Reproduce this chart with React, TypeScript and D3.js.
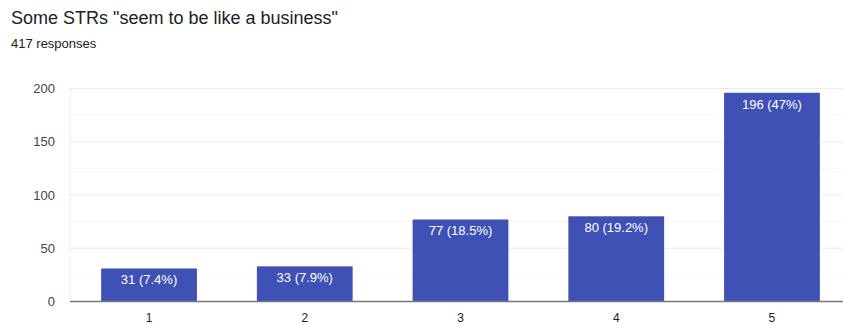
import React from "react";
import * as d3 from "d3";

const categories = ["1", "2", "3", "4", "5"];
const counts = [31, 33, 77, 80, 196];
const percents = ["7.4%", "7.9%", "18.5%", "19.2%", "47%"];
const yTicks = [0, 50, 100, 150, 200];
const yMinorTicks = [25, 75, 125, 175];

const W = 843;
const H = 325;
const FONT = "Arial, 'Liberation Sans', Helvetica, sans-serif";

export default function App() {
  React.useEffect(() => {
    document.body.style.margin = "0";
  }, []);

  const x = d3
    .scaleBand<string>()
    .domain(categories)
    .range([70, 851])
    .paddingInner(0.385)
    .paddingOuter(0.2);
  const y = d3.scaleLinear().domain([0, 200]).range([301.5, 88.5]);

  return (
    <svg width={W} height={H} style={{ display: "block", position: "absolute", top: 0, left: 0 }} fontFamily={FONT}>
      <rect width={W} height={H} fill="#fff" />
      <text x={11} y={24} fontSize={18} fill="#202124">
        Some STRs "seem to be like a business"
      </text>
      <text x={11} y={48} fontSize={13} fill="#202124">
        417 responses
      </text>
      {yMinorTicks.map((t) => (
        <line key={"m" + t} x1={70} x2={W} y1={y(t)} y2={y(t)} stroke="#f5f5f5" strokeWidth={1} />
      ))}
      {yTicks.map((t) => (
        <g key={t}>
          {t > 0 && <line x1={70} x2={W} y1={y(t)} y2={y(t)} stroke="#ebebeb" strokeWidth={1} />}
          <text x={55} y={y(t)} dy="0.35em" textAnchor="end" fontSize={13} fill="#444">
            {t}
          </text>
        </g>
      ))}
      <line x1={70} x2={70} y1={y(200)} y2={y(0)} stroke="#eeeeee" strokeWidth={1} />
      {categories.map((c, i) => {
        const bx = x(c)!;
        const bw = x.bandwidth();
        const top = y(counts[i]);
        return (
          <g key={c}>
            <rect x={bx} y={top} width={bw} height={y(0) - top} fill="#3f51b5" />
            <text x={bx + bw / 2} y={top + 16} textAnchor="middle" fontSize={13} fill="#fff">
              {`${counts[i]} (${percents[i]})`}
            </text>
            <text x={bx + bw / 2} y={322} textAnchor="middle" fontSize={12} fill="#222">
              {c}
            </text>
          </g>
        );
      })}
      <line x1={70} x2={W} y1={y(0)} y2={y(0)} stroke="#777" strokeWidth={1.5} />
    </svg>
  );
}
